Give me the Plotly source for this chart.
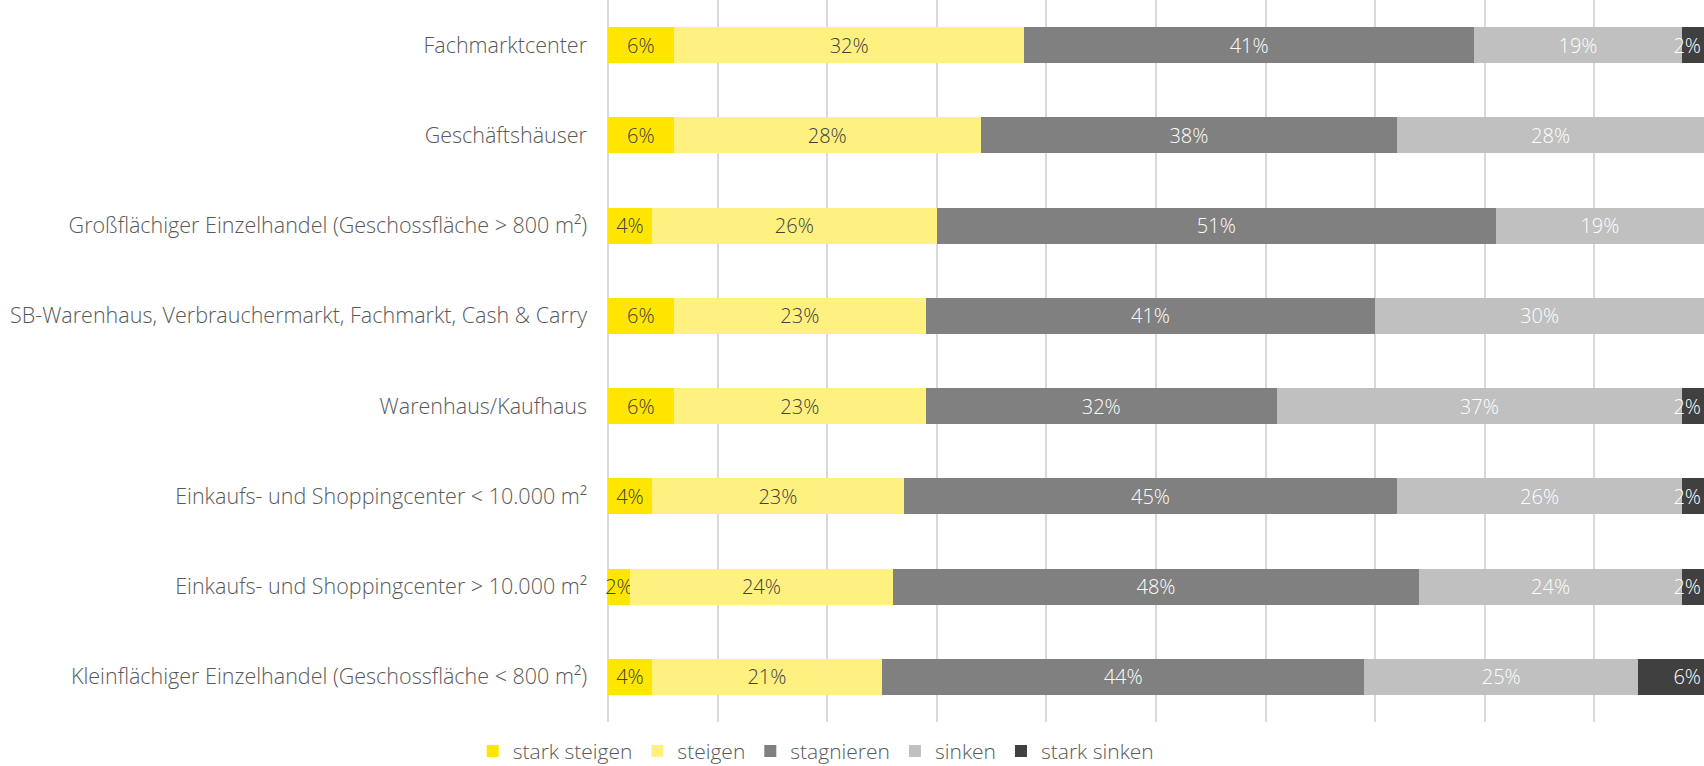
import plotly.graph_objects as go

categories = [
    "Fachmarktcenter",
    "Geschäftshäuser",
    "Großflächiger Einzelhandel (Geschossfläche > 800 m²)",
    "SB-Warenhaus, Verbrauchermarkt, Fachmarkt, Cash & Carry",
    "Warenhaus/Kaufhaus",
    "Einkaufs- und Shoppingcenter < 10.000 m²",
    "Einkaufs- und Shoppingcenter > 10.000 m²",
    "Kleinflächiger Einzelhandel (Geschossfläche < 800 m²)",
]

stark_steigen = [6, 6, 4, 6, 6, 4, 2, 4]
steigen = [32, 28, 26, 23, 23, 23, 24, 21]
stagnieren = [41, 38, 51, 41, 32, 45, 48, 44]
sinken = [19, 28, 19, 30, 37, 26, 24, 25]
stark_sinken = [2, 0, 0, 0, 2, 2, 2, 6]

# name, values, bar colour, label colour, label anchor inside the segment
series = [
    ("stark steigen", stark_steigen, "#FFE600", "#404040", "middle"),
    ("steigen", steigen, "#FFF17F", "#404040", "middle"),
    ("stagnieren", stagnieren, "#808080", "#FFFFFF", "middle"),
    ("sinken", sinken, "#C0C0C0", "#FFFFFF", "middle"),
    ("stark sinken", stark_sinken, "#404040", "#FFFFFF", "end"),
]

FONT = "Open Sans"

fig = go.Figure()
for name, vals, color, tcolor, anchor in series:
    fig.add_trace(go.Bar(
        y=categories,
        x=vals,
        name=name,
        orientation="h",
        marker=dict(color=color, line=dict(width=0)),
        text=[f"{v}%" if v else "" for v in vals],
        textposition="inside",
        insidetextanchor=anchor,
        textangle=0,
        constraintext="none",
        cliponaxis=False,
        textfont=dict(family=FONT, size=20, color=tcolor, weight=300),
        hoverinfo="skip",
    ))

fig.update_layout(
    barmode="stack",
    bargap=0.6,
    width=1704,
    height=766,
    margin=dict(l=608, r=0, t=0, b=44),
    paper_bgcolor="white",
    plot_bgcolor="white",
    font=dict(family=FONT, color="#595959", weight=300),
    showlegend=True,
    legend=dict(
        orientation="h",
        xref="container", yref="container",
        x=0.479, xanchor="center",
        y=0.019, yanchor="middle",
        traceorder="normal",
        font=dict(family=FONT, size=21, color="#595959", weight=300),
        itemwidth=30,
    ),
    xaxis=dict(
        range=[0, 100],
        dtick=10,
        showgrid=True,
        gridcolor="#D9D9D9",
        gridwidth=1.5,
        zeroline=True,
        zerolinecolor="#D9D9D9",
        zerolinewidth=1.5,
        showticklabels=False,
        fixedrange=True,
    ),
    yaxis=dict(
        categoryorder="array",
        categoryarray=categories,
        autorange="reversed",
        showgrid=False,
        tickfont=dict(family=FONT, size=21.5, color="#595959", weight=300),
        ticklabelstandoff=20,
        ticks="",
    ),
)

fig.write_html("out.html")
